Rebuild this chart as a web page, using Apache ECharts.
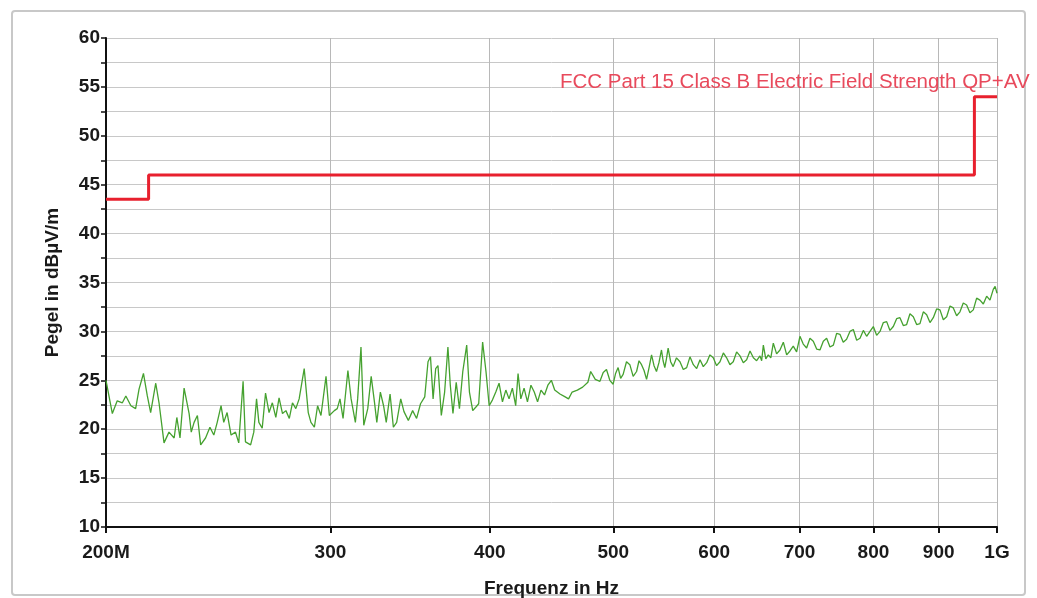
<!DOCTYPE html>
<html>
<head>
<meta charset="utf-8">
<script src="https://cdn.jsdelivr.net/npm/echarts@6/dist/echarts.min.js"></script>
<style>
  html, body { margin: 0; padding: 0; background: #ffffff; }
  #chart { width: 1037px; height: 598px; }
</style>
</head>
<body>
<div id="chart"></div>
<script>
// Frequency axis ticks (MHz) and their printed labels
const xTicks = [200, 300, 400, 500, 600, 700, 800, 900, 1000];
const xTickLabels = ['200M', '300', '400', '500', '600', '700', '800', '900', '1G'];

// FCC Part 15 Class B limit, drawn as a staircase (MHz, dBµV/m)
const limitFreq  = [200, 216, 216, 960, 960, 1000];
const limitLevel = [43.5, 43.5, 46, 46, 54, 54];
const limitName = 'FCC Part 15 Class B Electric Field Strength QP+AV';

// Measured emission trace: [frequency MHz, level dBµV/m]
const emission = [
  [200.0,25.0],[202.3,21.6],[204.1,22.9],[206.0,22.7],[207.3,23.4],[209.2,22.4],[211.0,22.1],[212.3,24.1],
  [214.0,25.7],[215.5,23.4],[216.8,21.7],[218.8,24.7],[220.1,22.7],[222.1,18.6],[224.1,19.7],[226.2,19.1],
  [227.3,21.2],[228.6,19.1],[230.3,24.2],[232.4,21.6],[233.3,19.7],[234.5,20.7],[235.9,21.4],[237.3,18.4],
  [239.4,19.1],[241.3,20.2],[243.0,19.4],[244.5,20.7],[246.2,22.4],[247.4,20.7],[248.9,21.7],[250.7,19.4],
  [252.7,19.7],[254.2,18.6],[256.2,24.9],[257.3,18.7],[259.7,18.4],[261.2,19.7],[262.5,23.1],[263.6,20.7],
  [265.2,20.1],[266.8,23.7],[268.5,21.7],[270.1,22.7],[271.8,21.2],[273.4,23.2],[275.1,21.6],[276.8,21.9],
  [278.5,21.1],[280.1,22.7],[281.8,22.1],[283.5,23.1],[286.1,26.2],[288.2,21.7],[289.6,20.7],[291.4,20.2],
  [293.1,22.4],[294.9,21.4],[297.6,25.4],[299.4,21.4],[302.1,21.9],
  [303.7,22.1],[305.2,23.1],[306.9,21.1],[309.6,26.0],[311.4,23.1],[313.8,20.7],[315.1,23.1],[317.0,28.4],
  [318.6,20.4],[320.9,22.1],[322.9,25.4],[324.8,22.8],[326.2,20.7],[328.3,23.8],[330.2,22.4],[331.8,20.7],
  [334.1,23.6],[336.1,20.2],[338.1,20.7],[340.6,23.1],[342.6,21.8],[345.3,20.9],[348.0,21.9],[350.5,21.1],
  [353.0,22.6],[355.7,23.3],[357.8,26.9],[359.4,27.4],[361.1,23.1],[362.8,26.2],[364.3,26.5],[366.5,21.4],
  [368.7,23.8],[370.9,28.4],[372.5,24.5],[374.3,21.6],[376.5,24.8],[378.7,22.1],[381.0,25.9],[383.7,28.6],
  [385.6,23.8],[387.9,21.9],[390.3,22.3],[392.1,22.6],[394.9,28.9],[397.3,25.9],[399.6,22.4],[402.0,23.0],
  [404.4,23.8],[406.8,24.7],[409.3,22.8],[411.8,24.0],[414.2,23.1],[416.7,24.2],[419.2,22.4],[421.0,25.7],
  [423.1,23.1],[425.6,24.2],[428.2,22.8],[430.9,24.5],[433.5,23.8],[436.1,22.8],[438.8,24.0],[441.6,23.5],
  [444.3,24.5],[447.1,25.0],[449.8,24.0],[454.1,23.6],[458.4,23.3],[461.2,23.1],[464.2,23.8],[468.6,24.0],
  [473.1,24.3],[477.6,24.8],[480.0,25.9],[484.0,25.1],
  [488.1,24.9],[491.0,25.8],[493.9,26.1],[496.9,25.0],[499.9,24.6],[502.1,25.7],[504.4,26.3],[506.7,25.2],
  [509.0,25.6],[512.1,26.9],[515.2,26.6],[518.3,25.4],[521.5,25.9],[523.8,27.0],[526.2,26.6],[528.6,26.0],
  [531.0,25.1],[533.4,26.3],[535.8,27.6],[538.2,26.5],[540.6,25.9],[543.0,26.8],[545.5,28.1],[547.1,27.0],
  [548.8,26.3],[550.4,27.2],[552.1,28.3],[554.6,26.9],[557.1,26.4],[560.5,27.3],[564.0,26.9],[567.4,26.1],
  [570.9,26.3],[574.3,27.4],[577.8,26.6],[581.3,26.2],[584.8,27.1],[588.3,26.4],[591.9,26.8],[595.4,27.6],
  [599.0,27.3],[602.6,26.5],[606.3,26.9],[610.0,27.8],[613.6,27.3],[617.3,26.6],[621.0,26.9],[624.8,27.9],
  [628.6,27.5],[632.4,26.8],[636.2,27.1],[640.1,28.0],[644.0,27.3],[647.8,27.0],[651.7,27.5],[653.7,27.0],
  [655.7,28.6],[658.6,27.2],[661.6,27.6],[664.6,27.3],[667.6,28.8],[671.6,27.7],[675.7,28.1],[679.8,28.9],
  [683.9,27.6],[688.0,28.0],[692.1,28.5],[696.3,27.9],[700.5,29.5],[704.7,28.7],[709.0,28.3],[713.3,29.3],
  [717.6,29.0],[722.0,28.2],[726.3,28.1],[730.7,29.0],[735.1,29.3],[739.6,28.4],[744.1,28.6],[748.5,29.8],
  [753.0,29.7],[757.5,28.9],[762.1,29.2],[766.7,30.0],[771.4,30.2],[776.1,29.1],[780.8,29.3],[785.5,30.1],
  [790.2,29.5],[795.0,30.0],[799.8,30.5],[804.6,29.6],[809.5,30.0],[814.4,30.9],[819.3,31.0],[824.2,30.1],
  [829.2,30.5],[834.2,31.3],[839.2,31.4],[844.3,30.6],[849.4,30.7],[854.5,31.8],[859.7,31.5],[864.9,30.7],
  [870.1,30.8],[875.4,32.0],[880.7,31.7],[886.0,30.9],[891.3,31.4],[896.7,32.3],[902.1,32.2],[907.6,31.2],
  [913.1,31.5],[918.6,32.6],[924.1,32.4],[929.7,31.6],[935.3,32.0],[940.9,32.9],[946.6,32.7],[952.3,31.9],
  [958.1,32.2],[963.9,33.4],[969.7,33.2],[975.6,32.8],[981.5,33.6],[987.4,33.2],[993.3,34.3],[996.6,34.6],
  [1000,33.9]
];

const FONT = '"Liberation Sans", Arial, sans-serif';
const GRID_COLOR = '#c8c8c8';

const chart = echarts.init(document.getElementById('chart'), null, { renderer: 'canvas' });

const limitData = limitFreq.map((f, i) => [f, limitLevel[i]]);

chart.setOption({
  backgroundColor: '#ffffff',
  animation: false,
  grid: { left: 106, right: 40, top: 38, bottom: 71, containLabel: false, outerBoundsMode: 'none' },
  xAxis: {
    type: 'log',
    logBase: 10,
    min: 200,
    max: 1000,
    name: 'Frequenz in Hz',
    nameLocation: 'middle',
    nameGap: 52,
    nameTextStyle: { fontFamily: FONT, fontSize: 19, fontWeight: 'bold', color: '#1a1a1a' },
    axisLine: { show: true, lineStyle: { color: '#111', width: 2 } },
    axisTick: { show: true, customValues: xTicks, length: 6, lineStyle: { color: '#111', width: 2 } },
    axisLabel: {
      show: true,
      customValues: xTicks,
      margin: 16,
      fontFamily: FONT,
      fontSize: 19,
      fontWeight: 'bold',
      color: '#1a1a1a',
      formatter: (v) => {
        const i = xTicks.findIndex(t => Math.abs(t - v) < 0.5);
        return i >= 0 ? xTickLabels[i] : '';
      }
    },
    splitLine: { show: true, lineStyle: { color: '#b8b8b8', width: 1 } },
    minorTick: { show: false },
    minorSplitLine: { show: false }
  },
  yAxis: {
    type: 'value',
    min: 10,
    max: 60,
    interval: 5,
    name: 'Pegel in dBµV/m',
    nameLocation: 'middle',
    nameGap: 44,
    nameRotate: 90,
    nameTextStyle: { fontFamily: FONT, fontSize: 19, fontWeight: 'bold', color: '#1a1a1a' },
    axisLine: { show: true, lineStyle: { color: '#111', width: 2 } },
    axisTick: { show: true, length: 5, lineStyle: { color: '#111', width: 1.5 } },
    minorTick: { show: true, splitNumber: 2, length: 5, lineStyle: { color: '#111', width: 1.5 } },
    axisLabel: { margin: 6, fontFamily: FONT, fontSize: 19, fontWeight: 'bold', color: '#1a1a1a' },
    splitLine: { show: true, lineStyle: { color: GRID_COLOR, width: 1 } },
    minorSplitLine: { show: true, lineStyle: { color: GRID_COLOR, width: 1 } }
  },
  graphic: [
    {
      type: 'rect',
      shape: { x: 12, y: 11, width: 1013, height: 584, r: 3 },
      style: { fill: 'none', stroke: '#c8c8c8', lineWidth: 2 },
      z: -10
    },
    {
      type: 'text',
      left: 560,
      top: 72,
      style: { text: limitName, fontFamily: FONT, fontSize: 20.5, fill: '#e84a5c' },
      z: 100
    }
  ],
  series: [
    {
      name: 'Emission',
      type: 'line',
      data: emission,
      showSymbol: false,
      symbol: 'none',
      lineStyle: { color: '#45a12f', width: 1.3 },
      z: 3
    },
    {
      name: limitName,
      type: 'line',
      data: limitData,
      showSymbol: false,
      symbol: 'none',
      lineStyle: { color: '#e8202e', width: 3 },
      z: 4
    }
  ]
});
</script>
</body>
</html>
